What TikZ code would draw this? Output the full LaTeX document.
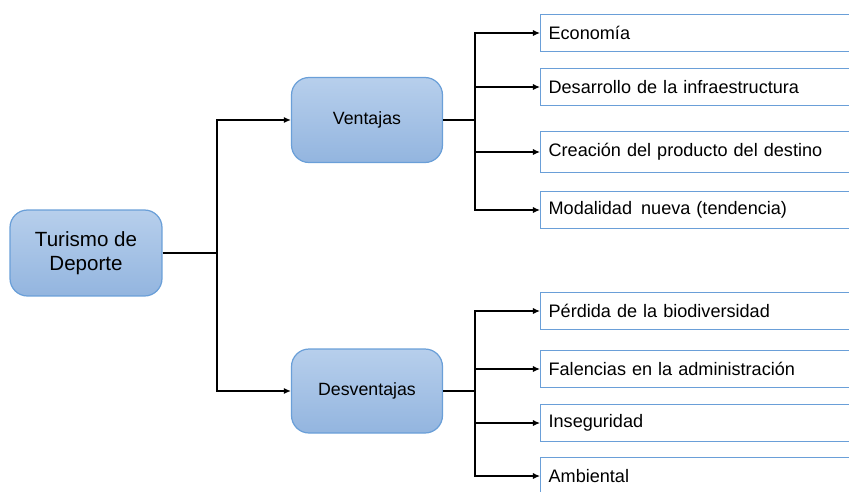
\documentclass[tikz,border=0pt]{standalone}
\usepackage{fontspec}
\setmainfont{Liberation Sans}
\usepackage{tikz}
\usetikzlibrary{arrows.meta,positioning}

\definecolor{boxTop}{HTML}{B7CFEC}
\definecolor{boxBot}{HTML}{93B5DF}
\definecolor{boxLine}{HTML}{6A9FD8}

\begin{document}
\begin{tikzpicture}[x=0.02cm, y=-0.02cm]
			\tikzstyle{Main}	= [rectangle, rounded corners=3.5mm, draw=boxLine, line width=0.7pt, top color=boxTop, bottom color=boxBot, align=center, inner sep=0pt]
			\tikzstyle{Leaf}	= [rectangle, draw=boxLine, line width=0.7pt, fill=white, anchor=west, minimum height=0.74cm, text width=6.6cm, inner xsep=0.16cm, align=left, font=\fontsize{10.3}{12}\selectfont]
			\tikzstyle{Link}	= [line width=0.7pt, black]
			\tikzstyle{Arrow}	= [Link, -{Latex[length=4pt,width=3.5pt]}]
			
			\clip (0,0) rectangle (849,491);
			
			\node (root) at (86,253) [Main, minimum width=3.04cm, minimum height=1.72cm, font=\fontsize{11.7}{14}\selectfont] {Turismo de\\Deporte};
			\node (ven) at (367,120) [Main, minimum width=3.02cm, minimum height=1.70cm, font=\fontsize{10.1}{12}\selectfont] {Ventajas};
			\node (des) at (367,391) [Main, minimum width=3.02cm, minimum height=1.68cm, font=\fontsize{10.1}{12}\selectfont] {Desventajas};
			
			\node (v1) at (540,33) [Leaf] {Econom\'ia};
			\node (v2) at (540,87) [Leaf] {Desarrollo de la infraestructura};
			\node (v3) at (540,152) [Leaf, minimum height=0.82cm] {Creaci\'on del producto del destino};
			\node (v4) at (540,210) [Leaf] {Modalidad\, nueva (tendencia)};
			
			\node (d1) at (540,311) [Leaf] {P\'erdida de la biodiversidad};
			\node (d2) at (540,369) [Leaf] {Falencias en la administraci\'on};
			\node (d3) at (540,423) [Leaf] {Inseguridad};
			\node (d4) at (540,476) [Leaf] {Ambiental};
			
			\coordinate (j0) at (217,253);
			\coordinate (j1) at (475,120);
			\coordinate (j2) at (475,391);
			
			\draw [Link] (root) -- (j0);
			\draw [Arrow] (j0) |- (ven);
			\draw [Arrow] (j0) |- (des);
			
			\draw [Link] (ven) -- (j1);
			\draw [Arrow] (j1) |- (v1.west);
			\draw [Arrow] (j1) |- (v2.west);
			\draw [Arrow] (j1) |- (v3.west);
			\draw [Arrow] (j1) |- (v4.west);
			
			\draw [Link] (des) -- (j2);
			\draw [Arrow] (j2) |- (d1.west);
			\draw [Arrow] (j2) |- (d2.west);
			\draw [Arrow] (j2) |- (d3.west);
			\draw [Arrow] (j2) |- (d4.west);
\end{tikzpicture}
\end{document}
